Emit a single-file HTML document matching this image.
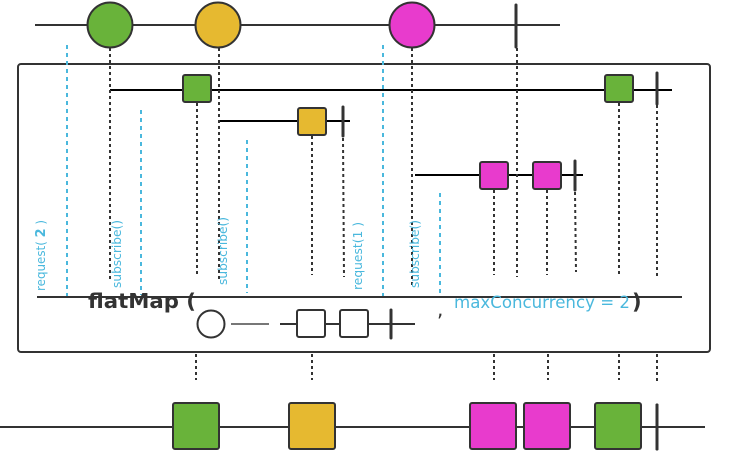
<!DOCTYPE html>
<html><head><style>html,body{margin:0;padding:0;background:#fff;}svg{display:block}</style></head>
<body>
<svg width="731" height="451" viewBox="0 0 731 451" xmlns="http://www.w3.org/2000/svg" font-family="DejaVu Sans, sans-serif">
<g stroke="#333" stroke-width="2" fill="none">
<line x1="35" y1="25" x2="560" y2="25"/>
<rect x="18" y="64" width="692" height="288" rx="3"/>
</g>
<g stroke="#000" stroke-width="2">
<line x1="110" y1="90" x2="672" y2="90"/>
<line x1="220" y1="121" x2="350" y2="121"/>
<line x1="415" y1="175" x2="583" y2="175"/>
</g>
<g stroke="#333" stroke-width="2" stroke-dasharray="3,3">
<line x1="110" y1="48" x2="110" y2="282"/>
<line x1="219" y1="48" x2="219" y2="282"/>
<line x1="412" y1="48" x2="412" y2="285"/>
<line x1="517" y1="48" x2="517" y2="277"/>
<line x1="197" y1="103" x2="197" y2="275"/>
<line x1="312" y1="136" x2="312" y2="275"/>
<line x1="343" y1="138" x2="344" y2="277"/>
<line x1="494" y1="190" x2="494" y2="275"/>
<line x1="547" y1="190" x2="547" y2="275"/>
<line x1="575" y1="192" x2="576" y2="272"/>
<line x1="619" y1="103" x2="619" y2="275"/>
<line x1="657" y1="105" x2="657" y2="277"/>
<line x1="196" y1="354" x2="196" y2="380"/>
<line x1="312" y1="354" x2="312" y2="380"/>
<line x1="494" y1="354" x2="494" y2="380"/>
<line x1="548" y1="354" x2="548" y2="380"/>
<line x1="619" y1="354" x2="619" y2="380"/>
<line x1="657" y1="354" x2="657" y2="382"/>
</g>
<g stroke="#4ab8dd" stroke-width="2" stroke-dasharray="4,4">
<line x1="67" y1="45" x2="67" y2="297"/>
<line x1="141" y1="110" x2="141" y2="295"/>
<line x1="247" y1="140" x2="247" y2="293"/>
<line x1="383" y1="45" x2="383" y2="297"/>
<line x1="440" y1="193" x2="440" y2="293"/>
</g>
<g stroke="#333" stroke-width="2">
<circle cx="110" cy="25" r="22.5" fill="#69b33a"/>
<circle cx="218" cy="25" r="22.5" fill="#e6b930"/>
<circle cx="412" cy="25" r="22.5" fill="#e83bcd"/>
<rect x="183" y="75" width="28" height="27" rx="2" fill="#69b33a"/>
<rect x="605" y="75" width="28" height="27" rx="2" fill="#69b33a"/>
<rect x="298" y="108" width="28" height="27" rx="2" fill="#e6b930"/>
<rect x="480" y="162" width="28" height="27" rx="2" fill="#e83bcd"/>
<rect x="533" y="162" width="28" height="27" rx="2" fill="#e83bcd"/>
</g>
<g stroke="#333" stroke-width="3" stroke-linecap="round">
<line x1="516" y1="5" x2="516" y2="47"/>
<line x1="657" y1="73" x2="657" y2="104"/>
<line x1="343" y1="107" x2="343" y2="136"/>
<line x1="575" y1="161" x2="575" y2="190"/>
<line x1="391" y1="310" x2="391" y2="338"/>
<line x1="657" y1="405" x2="657" y2="449"/>
</g>
<g fill="#4ab8dd" font-size="12">
<text transform="translate(45,291) rotate(-90)" textLength="71" lengthAdjust="spacingAndGlyphs">request( <tspan font-weight="bold" font-size="13">2</tspan> )</text>
<text transform="translate(121,288) rotate(-90)" textLength="68" lengthAdjust="spacingAndGlyphs">subscribe()</text>
<text transform="translate(227,285) rotate(-90)" textLength="68" lengthAdjust="spacingAndGlyphs">subscribe()</text>
<text transform="translate(362,290) rotate(-90)" textLength="68" lengthAdjust="spacingAndGlyphs">request(1 )</text>
<text transform="translate(419,288) rotate(-90)" textLength="68" lengthAdjust="spacingAndGlyphs">subscribe()</text>
</g>
<line x1="37" y1="297" x2="682" y2="297" stroke="#333" stroke-width="2"/>
<text x="88" y="308" font-size="20" font-weight="bold" fill="#333" textLength="108" lengthAdjust="spacingAndGlyphs">flatMap (</text>
<circle cx="211" cy="324" r="13.5" fill="#fff" stroke="#333" stroke-width="2"/>
<line x1="231" y1="324" x2="269" y2="324" stroke="#777" stroke-width="2"/>
<line x1="280" y1="324" x2="415" y2="324" stroke="#333" stroke-width="2"/>
<rect x="297" y="310" width="28" height="27" rx="2" fill="#fff" stroke="#333" stroke-width="2"/>
<rect x="340" y="310" width="28" height="27" rx="2" fill="#fff" stroke="#333" stroke-width="2"/>
<line x1="391" y1="310" x2="391" y2="338" stroke="#333" stroke-width="3"/>
<text x="437" y="316" font-size="20" fill="#333">,</text>
<text x="454" y="308" font-size="17" fill="#4ab8dd" textLength="176" lengthAdjust="spacingAndGlyphs">maxConcurrency = 2</text>
<text x="632" y="309" font-size="21" font-weight="bold" fill="#333">)</text>
<line x1="0" y1="427" x2="705" y2="427" stroke="#333" stroke-width="2"/>
<g stroke="#333" stroke-width="2">
<rect x="173" y="403" width="46" height="46" rx="2" fill="#69b33a"/>
<rect x="289" y="403" width="46" height="46" rx="2" fill="#e6b930"/>
<rect x="470" y="403" width="46" height="46" rx="2" fill="#e83bcd"/>
<rect x="524" y="403" width="46" height="46" rx="2" fill="#e83bcd"/>
<rect x="595" y="403" width="46" height="46" rx="2" fill="#69b33a"/>
</g>
<line x1="657" y1="405" x2="657" y2="449" stroke="#333" stroke-width="3" stroke-linecap="round"/>
</svg>
</body></html>
